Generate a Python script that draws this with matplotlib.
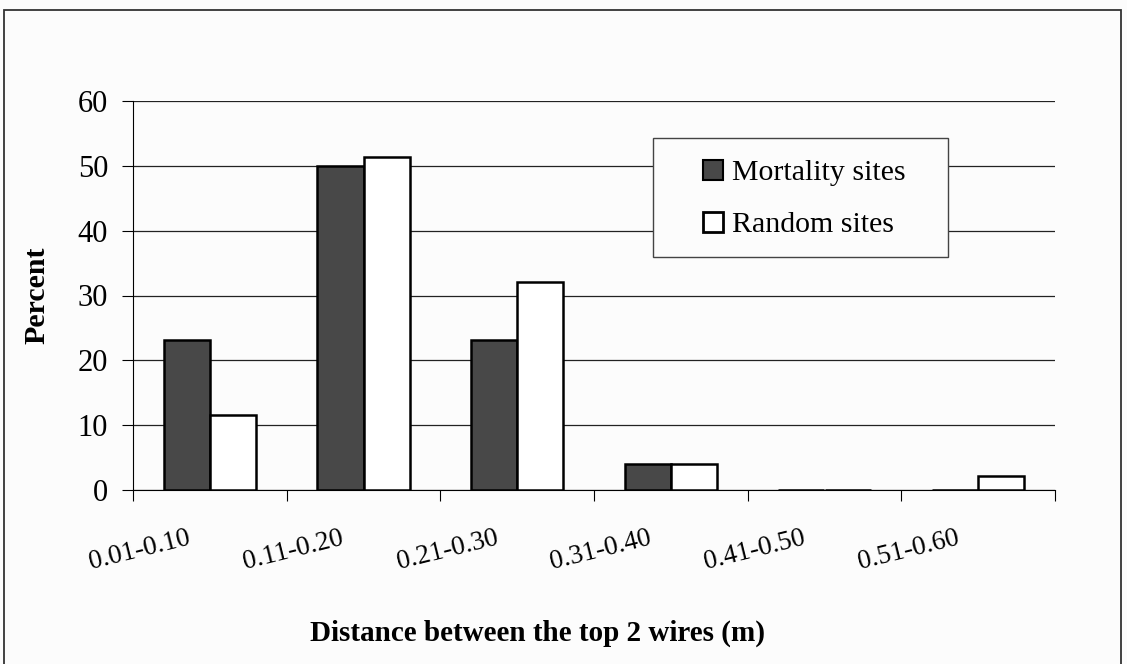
import numpy as np
import matplotlib
matplotlib.use('Agg')
import matplotlib.pyplot as plt
from matplotlib.patches import Rectangle, Patch

categories = ['0.01-0.10', '0.11-0.20', '0.21-0.30', '0.31-0.40', '0.41-0.50', '0.51-0.60']
mortality = [23.2, 50.0, 23.2, 4.0, 0, 0]
random_sites = [11.5, 51.3, 32.1, 4.0, 0, 2.1]
series_names = ['Mortality sites', 'Random sites']

plt.rcParams['font.family'] = ['Liberation Serif', 'DejaVu Serif']

W, H = 1127, 664
fig = plt.figure(figsize=(W / 100, H / 100), dpi=100)
fig.patch.set_facecolor('#fcfcfc')
ax = fig.add_axes([133 / W, 1 - 490 / H, 922 / W, 389 / H])
ax.set_facecolor('#fcfcfc')

# outer frame (open at the bottom, like the scan)
fig.patches.append(Rectangle((4 / W, -0.1), 1117 / W, 1.1 - 10 / H,
                             transform=fig.transFigure, fill=False,
                             edgecolor='#333333', linewidth=1.3))

dark = '#484848'
x = np.arange(len(categories))
w = 0.3
ax.bar(x - w / 2, mortality, w, color=dark, edgecolor='black',
       linewidth=1.8, zorder=3)
ax.bar(x + w / 2, random_sites, w, color='white', edgecolor='black',
       linewidth=1.8, zorder=3)

ax.set_xlim(-0.5, len(categories) - 0.5)
ax.set_ylim(0, 60)
ax.set_yticks(range(0, 61, 10))
ax.yaxis.grid(True, color='#222222', linewidth=0.9)
ax.set_axisbelow(True)

for s in ['top', 'right']:
    ax.spines[s].set_visible(False)

# category boundary ticks, labels drawn by hand (they sit near the boundaries)
ax.set_xticks(np.arange(len(categories) + 1) - 0.5)
ax.set_xticklabels([])
ax.tick_params(axis='x', length=8, direction='out')
ax.tick_params(axis='y', length=8, direction='out', labelsize=22, pad=10)

for i, lab in enumerate(categories):
    ax.text(i - 0.455, -0.154, lab, transform=ax.get_xaxis_transform(),
            rotation=14, ha='center', va='center', fontsize=19.5)

ax.set_ylabel('Percent', fontsize=21.5, fontweight='bold')
ax.yaxis.set_label_coords(-0.09, 0.5)
ax.set_xlabel('Distance between the top 2 wires (m)', fontsize=21,
              fontweight='bold')
ax.xaxis.set_label_coords(0.439, -0.334)

# legend: box drawn separately, entries inside
ax.add_patch(Rectangle((0.564, 0.599), 0.32, 0.306, transform=ax.transAxes,
                       facecolor='#fcfcfc', edgecolor='#444444', linewidth=1.0,
                       zorder=5, clip_on=False))
handles = [Patch(facecolor=dark, edgecolor='black', linewidth=1.5),
           Patch(facecolor='white', edgecolor='black', linewidth=2.0)]
leg = ax.legend(handles, series_names, loc='center left',
                bbox_to_anchor=((703 - 133) / 922, (490 - 199) / 389),
                fontsize=21.5, frameon=False, handlelength=0.67,
                handleheight=0.67, handletextpad=0.3, labelspacing=0.85,
                borderpad=0, borderaxespad=0)
leg.set_zorder(6)

fig.savefig('out.png', dpi=100, facecolor=fig.get_facecolor())
